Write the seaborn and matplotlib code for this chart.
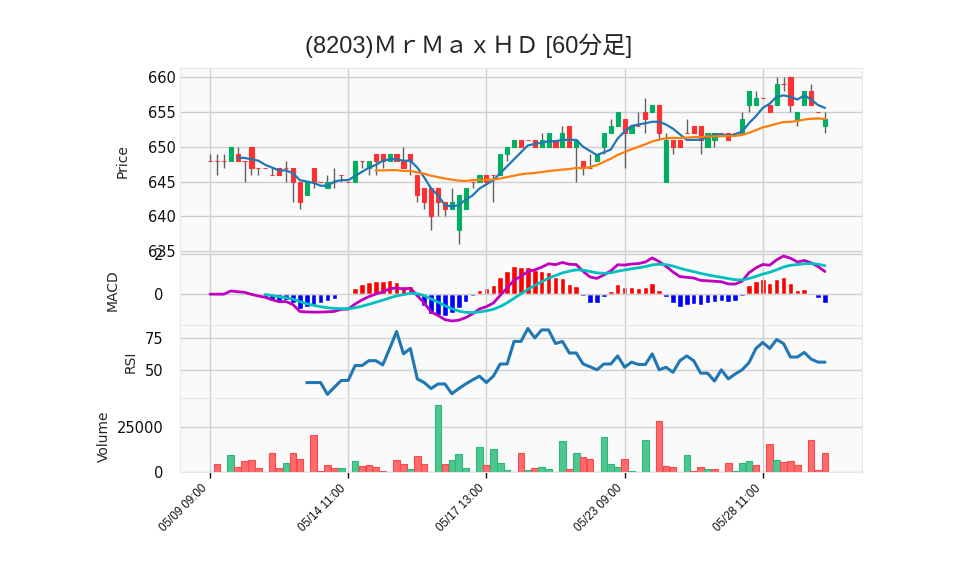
import numpy as np
import pandas as pd
import matplotlib
matplotlib.use("Agg")
import matplotlib.pyplot as plt
import seaborn as sns

# 60分足 OHLCV (index 0 = 05/09 09:00)
opens = [648, 648, 648, 648, 649, 648, 650, 647, 647, 646,
         647, 647, 647, 645, 643, 647, 645, 644, 645, 646,
         645, 645, 648, 647, 649, 649, 648, 649, 648, 649,
         646, 644, 644, 644, 642, 641, 638, 641, 645, 645,
         646, 646, 646, 649, 650, 651, 651, 651, 650, 650,
         651, 650, 653, 650, 648, 647, 648, 650, 652, 653,
         654, 652, 653, 655, 655, 656, 645, 651, 651, 652,
         653, 653, 650, 651, 652, 652, 652, 652, 656, 656,
         657, 656, 656, 659, 660, 654, 656, 658, 655, 653]
highs = [649, 649, 649, 650, 650, 648, 650, 647, 647, 647,
         647, 648, 647, 645, 645, 647, 645, 646, 647, 646,
         645, 648, 648, 648, 649, 649, 649, 649, 650, 649,
         646, 644, 644, 644, 642, 644, 643, 644, 645, 646,
         646, 646, 649, 650, 651, 651, 651, 651, 652, 652,
         651, 653, 653, 651, 648, 649, 649, 652, 654, 655,
         654, 653, 655, 657, 656, 656, 652, 651, 651, 654,
         653, 653, 652, 652, 652, 652, 652, 655, 658, 658,
         657, 656, 660, 660, 660, 655, 658, 659, 655, 655]
lows = [648, 646, 647, 648, 648, 645, 646, 646, 647, 646,
        646, 645, 642, 641, 643, 644, 645, 644, 644, 645,
        645, 645, 647, 646, 646, 647, 648, 648, 647, 646,
        642, 641, 638, 640, 640, 641, 636, 641, 644, 645,
        645, 642, 646, 648, 650, 650, 651, 650, 650, 650,
        650, 650, 650, 645, 646, 647, 648, 649, 652, 653,
        647, 652, 653, 652, 655, 651, 645, 649, 650, 652,
        652, 649, 650, 650, 652, 651, 652, 652, 655, 656,
        657, 655, 656, 658, 655, 653, 656, 656, 655, 652]
closes = [648, 648, 648, 650, 648, 648, 647, 647, 647, 646,
          646, 647, 645, 642, 645, 645, 645, 645, 645, 646,
          645, 648, 648, 648, 648, 648, 649, 648, 647, 648,
          643, 642, 640, 642, 641, 642, 643, 644, 645, 646,
          645, 646, 649, 650, 651, 650, 651, 650, 651, 652,
          650, 652, 650, 651, 647, 647, 649, 652, 653, 655,
          652, 653, 653, 654, 656, 652, 651, 650, 650, 652,
          652, 651, 652, 652, 652, 651, 652, 654, 658, 657,
          657, 655, 659, 659, 656, 655, 658, 656, 655, 654]
volumes = [0, 4700, 0, 9400, 2600, 6000, 6600, 2100, 0, 10500,
           2100, 4900, 10500, 7100, 0, 20700, 400, 3800, 2100, 2100,
           0, 6000, 3200, 3800, 2600, 750, 0, 6600, 4300, 1500,
           8800, 4300, 0, 37600, 4700, 6600, 10000, 2100, 0, 13900,
           3800, 12800, 4900, 900, 0, 10500, 900, 2100, 2600, 1500,
           0, 17300, 1500, 10500, 8300, 7100, 0, 19600, 4300, 2600,
           7100, 400, 0, 17900, 0, 28600, 3200, 2600, 0, 9400,
           750, 2600, 1500, 1500, 0, 4900, 400, 4900, 6000, 3800,
           0, 15600, 6600, 5500, 6000, 3800, 0, 17900, 900, 10500]

tick_pos = [0, 20, 40, 60, 80]
tick_labels = ['05/09 09:00', '05/14 11:00', '05/17 13:00', '05/23 09:00', '05/28 11:00']
title = '(8203)ＭｒＭａｘＨＤ [60分足]'

df = pd.DataFrame({'open': opens, 'high': highs, 'low': lows,
                   'close': closes, 'volume': volumes})
df['x'] = np.arange(len(df))

# indicators
df['ma5'] = df['close'].rolling(5).mean()
df['ma25'] = df['close'].rolling(25).mean()
ema12 = df['close'].ewm(span=12, adjust=False).mean()
ema26 = df['close'].ewm(span=26, adjust=False).mean()
df['macd'] = ema12 - ema26
df['signal'] = df['macd'].ewm(span=9, adjust=False, min_periods=9).mean()
df['hist'] = df['macd'] - df['signal']
diff = df['close'].diff()
gain = diff.clip(lower=0).rolling(14).mean()
loss = (-diff.clip(upper=0)).rolling(14).mean()
df['rsi'] = 100 * gain / (gain + loss)

UP, DOWN = '#00b060', '#fe3032'
VUP, VDOWN = '#4dc790', '#fd6b6c'

sns.set_theme(style="whitegrid", rc={
    'axes.facecolor': '#fafafa', 'grid.color': '#d0d0d0', 'grid.linewidth': 1.0,
    'axes.edgecolor': '#e8e8e8', 'axes.linewidth': 0.8,
    'xtick.labelsize': 10, 'ytick.labelsize': 10.5, 'axes.labelsize': 10,
    'xtick.color': '#101010', 'ytick.color': '#101010'})
plt.rcParams['font.family'] = ['DejaVu Sans', 'Noto Sans CJK JP']

fig = plt.figure(figsize=(9.58, 5.75), dpi=100)
L, W = 180 / 958, 682 / 958
ax1 = fig.add_axes([L, 1 - 252 / 575, W, 184 / 575])
ax2 = fig.add_axes([L, 1 - 325 / 575, W, 73 / 575])
ax3 = fig.add_axes([L, 1 - 398 / 575, W, 73 / 575])
ax4 = fig.add_axes([L, 1 - 472 / 575, W, 74 / 575])
axes = [ax1, ax2, ax3, ax4]
x0 = -(210 - 180) / 6.91
x1 = (862 - 210) / 6.91

# price panel
up = df['close'] > df['open']
ax1.vlines(df['x'], df['low'], df['high'], color='#606060', linewidth=1.0, zorder=2)
cols = np.where(up, UP, DOWN)
ax1.bar(df['x'], df['close'] - df['open'], bottom=df['open'], width=0.6,
        color=cols, edgecolor=cols, linewidth=0.8, zorder=3)
sns.lineplot(data=df, x='x', y='ma5', ax=ax1, color='#1f77b4', linewidth=1.6, zorder=4)
sns.lineplot(data=df, x='x', y='ma25', ax=ax1, color='#ff7f0e', linewidth=1.6, zorder=4)
ax1.set_ylim(634.86, 661.34)
ax1.set_yticks([635, 640, 645, 650, 655, 660])

# MACD panel: histogram on its own (secondary) scale, lines on top
axh = ax2.twinx()
hcols = np.where(df['hist'] >= 0, 'red', 'blue')
axh.bar(df['x'], df['hist'], width=0.8, color=hcols, zorder=2)
k = 1.55
axh.set_ylim(-1.55 / k, 2.12 / k)
axh.grid(False)
axh.tick_params(right=False, labelright=False)
axh.set_ylabel('')
for s in axh.spines.values():
    s.set_visible(False)
axh.patch.set_visible(True)
axh.patch.set_facecolor('#fafafa')
ax2.set_zorder(axh.get_zorder() + 1)
ax2.patch.set_visible(False)
sns.lineplot(data=df, x='x', y='macd', ax=ax2, color='#bf00bf', linewidth=2.0, zorder=3)
sns.lineplot(data=df, x='x', y='signal', ax=ax2, color='#00bfbf', linewidth=2.0, zorder=3)
ax2.set_ylim(-1.55, 2.12)
ax2.set_yticks([0, 2])

# RSI panel
sns.lineplot(data=df, x='x', y='rsi', ax=ax3, color='#1f77b4', linewidth=2.2)
ax3.set_ylim(27.9, 85.1)
ax3.set_yticks([50, 75])

# volume panel (colour by close vs previous close)
vup = df['close'] > df['close'].shift(1)
vcols = np.where(vup, VUP, VDOWN)
ecols = np.where(vup, '#2fb87a', '#fb4a4c')
ax4.bar(df['x'], df['volume'], width=0.95, color=vcols, edgecolor=ecols,
        linewidth=0.8, zorder=2)
ax4.set_ylim(0, 41330)
ax4.set_yticks([0, 25000])

for ax in axes:
    ax.set_xlim(x0, x1)
    ax.set_xticks(tick_pos)
    ax.grid(True, axis='both')
    ax.set_xlabel('')
    ax.set_ylabel('')
    ax.tick_params(axis='y', length=0, pad=12)
    ax.set_axisbelow(True)
    for s in ax.spines.values():
        s.set_color('#e8e8e8')
ax1.tick_params(axis='y', pad=3)
axh.set_xlim(x0, x1)
for ax in axes[:3]:
    ax.tick_params(axis='x', length=0, labelbottom=False)
ax4.set_xticklabels(tick_labels, rotation=45, ha='right', fontsize=8.4,
                    family=['Liberation Sans'])
ax4.tick_params(axis='x', length=4, width=1, color='#101010', direction='out', bottom=True)

fig.text(123 / 958, 1 - 161 / 575, 'Price', rotation=90, ha='center', va='center', fontsize=10)
fig.text(113 / 958, 1 - 290 / 575, 'MACD', rotation=90, ha='center', va='center', fontsize=10)
fig.text(131 / 958, 1 - 362 / 575, 'RSI', rotation=90, ha='center', va='center', fontsize=10)
fig.text(104 / 958, 1 - 436 / 575, 'Volume', rotation=90, ha='center', va='center', fontsize=10)
fig.text(468.5 / 958, 1 - 46 / 575, title, ha='center', va='center', fontsize=17,
         family=['Liberation Sans', 'Noto Sans CJK JP'])

fig.savefig('out.png', dpi=100)
